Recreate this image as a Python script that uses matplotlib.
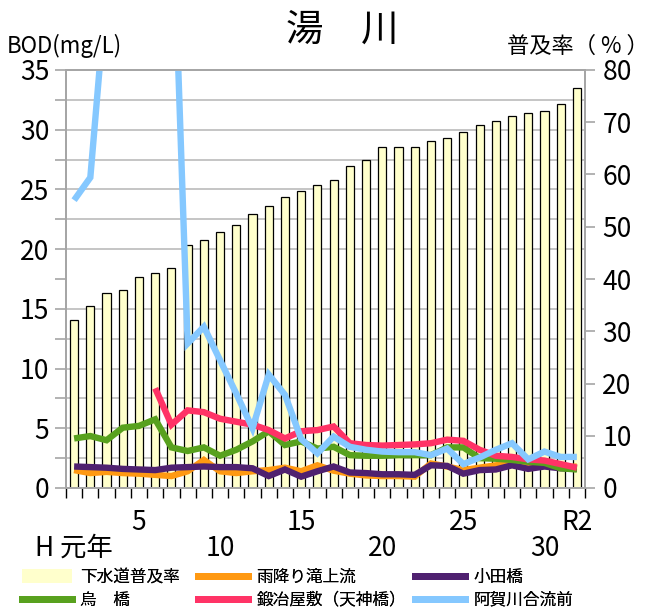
import matplotlib
matplotlib.use('Agg')
import matplotlib.pyplot as plt
import numpy as np
from matplotlib.patches import Patch
from matplotlib.lines import Line2D
import matplotlib.transforms as mtransforms

plt.rcParams['font.family'] = ['Noto Sans CJK JP', 'DejaVu Sans']

# ---- data ----
categories = ["H元年"] + [str(i) for i in range(2, 31)] + ["R元", "R2"]
shown_labels = {1: "H 元年", 5: "5", 10: "10", 15: "15", 20: "20", 25: "25", 30: "30", 32: "R2"}

sewer_rate = [32.2, 34.8, 37.3, 37.8, 40.4, 41.1, 42.1, 46.5, 47.5, 49.0, 50.4, 52.4,
              53.9, 55.7, 56.8, 57.9, 58.9, 61.6, 62.8, 65.2, 65.3, 65.3, 66.4, 67.0,
              68.2, 69.4, 70.2, 71.2, 71.7, 72.2, 73.4, 76.5]

amefuri = [1.5, 1.25, 1.35, 1.25, 1.2, 1.1, 1.0, 1.4, 2.35, 1.4, 1.25, 1.4, 1.5, 1.7,
           1.4, 1.9, 1.45, 1.2, 1.05, 1.0, 1.0, 0.95, 2.05, 1.8, 1.5, 1.7, 1.9, 2.05,
           1.8, 1.95, 1.7, 1.8]

oda = [1.8, 1.75, 1.7, 1.6, 1.55, 1.5, 1.7, 1.75, 1.8, 1.75, 1.75, 1.65, 1.0, 1.55,
       0.95, 1.4, 1.8, 1.3, 1.25, 1.15, 1.15, 1.1, 1.9, 1.85, 1.2, 1.5, 1.55, 1.9,
       1.6, 1.8, 1.65, 1.6]

karasu = [4.15, 4.35, 4.0, 5.05, 5.2, 5.75, 3.4, 3.1, 3.4, 2.7, 3.2, 3.9, 4.75, 3.6,
          3.9, 3.3, 3.45, 2.75, 2.7, 2.7, 2.75, 2.75, 2.75, 3.4, 3.4, 2.5, 2.45, 2.35,
          2.2, 2.1, 1.65, 1.55]

kajiyashiki = [np.nan, np.nan, np.nan, np.nan, np.nan, 8.35, 5.3, 6.5, 6.35, 5.8, 5.55,
               5.3, 4.85, 4.15, 4.75, 4.85, 5.15, 3.75, 3.6, 3.55, 3.6, 3.65, 3.75, 4.05,
               3.95, 3.2, 2.7, 2.6, 2.4, 2.3, 2.0, 1.7]

aga = [24.1, 26.0, 42.0, 46.0, 50.0, 48.0, 52.0, 12.1, 13.5, 10.7, 7.9, 5.0, 9.5, 7.8,
       4.1, 2.9, 4.3, 3.45, 3.2, 3.05, 3.0, 3.0, 2.75, 3.3, 2.0, 2.55, 3.2, 3.75,
       2.4, 3.05, 2.6, 2.6]

series = [
    ("雨降り滝上流", amefuri, "#FF9912"),
    ("小田橋", oda, "#4F2170"),
    ("烏　橋", karasu, "#58A11E"),
    ("鍛冶屋敷（天神橋）", kajiyashiki, "#FF3366"),
    ("阿賀川合流前", aga, "#85C8FF"),
]
bar_color = "#FFFFCC"

# ---- figure ----
fig = plt.figure(figsize=(6.5, 6.12), dpi=100)
ax = fig.add_axes([66/650, 1-488/612, (585-66)/650, (488-70)/612])
ax2 = ax.twinx()
ax.set_zorder(ax2.get_zorder() + 1)
ax.patch.set_visible(False)
ax2.patch.set_visible(True)
ax2.patch.set_facecolor('white')

x = np.arange(1, len(categories) + 1)
ax2.bar(x, sewer_rate, width=0.5, color=bar_color, edgecolor='#000000',
        linewidth=0.9, zorder=2)
ax2.set_ylim(0, 80)
ax2.set_yticks(np.arange(0, 81, 10))
ax2.set_yticks(np.linspace(0, 80, 15), minor=True)
ax2.grid(which='minor', axis='y', color='#C0C0C0', linewidth=1.3)
ax2.set_axisbelow(True)
ax2.tick_params(axis='y', which='minor', length=0)
ax2.tick_params(axis='y', which='major', length=7.5, width=1.2, color='#A6A6A6',
                labelsize=19, pad=5)

for name, vals, col in series:
    ax.plot(x, vals, color=col, linewidth=4.6, solid_joinstyle='miter',
            solid_capstyle='butt', label=name)

ax.set_xlim(0.5, len(categories) + 0.5)
ax.set_ylim(0, 35)
ax.set_yticks(np.arange(0, 36, 5))
ax.set_yticks(np.arange(0, 35.1, 2.5), minor=True)
ax.tick_params(axis='y', which='both', length=8, width=1.2, color='#A6A6A6',
               labelsize=19, pad=4)
ax.set_xticks(np.arange(0.5, len(categories) + 1, 1))
ax.set_xticklabels([])
ax.tick_params(axis='x', which='both', length=7, width=1.0, color='#000000')
ax2.tick_params(axis='x', which='both', length=0)

for a in (ax, ax2):
    for s in a.spines.values():
        s.set_color('#A6A6A6')
        s.set_linewidth(1.3)

# x labels, staggered in two rows
trans = mtransforms.blended_transform_factory(ax.transData, fig.transFigure)
for pos, lab in shown_labels.items():
    row_lower = lab in ("H 元年", "10", "20", "30")
    yy = 1 - 548/612 if row_lower else 1 - 522/612
    ax.text(pos, yy, lab, transform=trans, ha='center', va='center', fontsize=19)

# titles
fig.text(342/650, 1 - 30/612, "湯　川", fontsize=27, ha='center', va='center')
fig.text(7/650, 1 - 46/612, "BOD(mg/L)", fontsize=16,
         family=['Liberation Sans Narrow', 'Noto Sans CJK JP'],
         ha='left', va='center')
fig.text(649/650, 1 - 46/612, "普及率（ % ）", fontsize=16, ha='right', va='center')

# legend in three columns
handles = [Patch(facecolor=bar_color, edgecolor='none', label="下水道普及率")]
for name, vals, col in series:
    handles.append(Line2D([0], [0], color=col, linewidth=5, label=name))
cols = [[handles[0], handles[3]], [handles[1], handles[4]], [handles[2], handles[5]]]
col_x = [22/650, 198/650, 415/650]
for hx, hs in zip(col_x, cols):
    leg = fig.legend(handles=hs, loc='upper left', bbox_to_anchor=(hx, 1 - 569/612),
                     frameon=False, fontsize=12, handlelength=3.0, handleheight=0.9,
                     handletextpad=0.5, labelspacing=0.35, borderpad=0, borderaxespad=0)
    fig.add_artist(leg)

fig.savefig("out.png", dpi=100, facecolor='white')
